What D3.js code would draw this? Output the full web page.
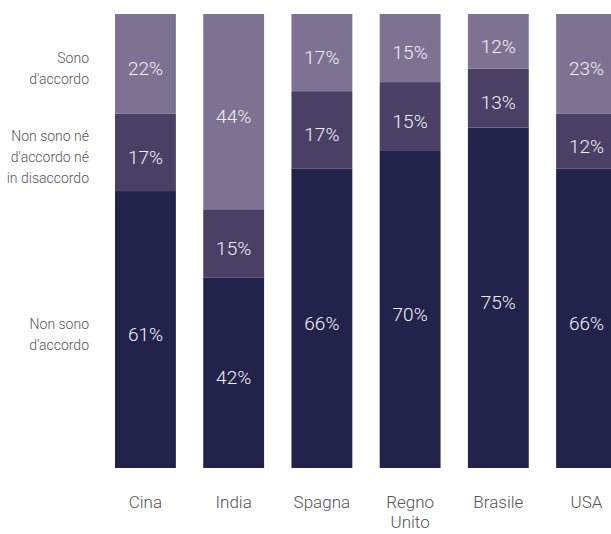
<!DOCTYPE html>
<html>
<head>
<meta charset="utf-8">
<script src="https://cdn.jsdelivr.net/npm/d3@7"></script>
<style>
  body { margin: 0; background: #fff; }
  svg text { font-family: Roboto, "Noto Sans", sans-serif; }
</style>
</head>
<body>
<svg id="chart" width="611" height="534"></svg>
<script>
// categories and stacked values (bottom -> top)
var countries = ['Cina', 'India', 'Spagna', 'Regno Unito', 'Brasile', 'USA'];
var disagree = [61, 42, 66, 70, 75, 66];
var neutral  = [17, 15, 17, 15, 13, 12];
var agree    = [22, 44, 17, 15, 12, 23];
var seriesNames = ['Non sono d\'accordo', 'Non sono né d\'accordo né in disaccordo', 'Sono d\'accordo'];
var legendLines = [['Non sono', 'd\'accordo'], ['Non sono né', 'd\'accordo né', 'in disaccordo'], ['Sono', 'd\'accordo']];
var colors = ['#22234a', '#4a4066', '#7e7293'];

var svg = d3.select('#chart');

var x = d3.scaleBand()
    .domain(countries)
    .range([115, 617])
    .paddingInner(0.31)
    .paddingOuter(0);

var y = d3.scaleLinear()
    .domain([0, 100])
    .range([468, 14])
    .clamp(true);

var rows = countries.map(function (c, i) {
    return { country: c, s0: disagree[i], s1: neutral[i], s2: agree[i] };
});

var stack = d3.stack().keys(['s0', 's1', 's2']);
var layers = stack(rows);

var g = svg.selectAll('g.layer')
    .data(layers)
    .enter().append('g')
    .attr('class', 'layer')
    .attr('fill', function (d, i) { return colors[i]; });

g.selectAll('rect')
    .data(function (d) { return d; })
    .enter().append('rect')
    .attr('x', function (d) { return x(d.data.country); })
    .attr('y', function (d) { return y(d[1]); })
    .attr('width', x.bandwidth())
    .attr('height', function (d) { return y(d[0]) - y(d[1]); });

// value labels
layers.forEach(function (layer) {
    svg.append('g').selectAll('text')
        .data(layer)
        .enter().append('text')
        .attr('x', function (d) { return x(d.data.country) + x.bandwidth() / 2; })
        .attr('y', function (d) { return (y(d[0]) + y(d[1])) / 2; })
        .attr('dy', '0.6em')
        .attr('text-anchor', 'middle')
        .attr('fill', '#f2f0f5')
        .style('font-size', '19px')
        .style('font-weight', 300)
        .text(function (d) { return (d[1] - d[0] > 0 ? d.data[layer.key] : '') + '%'; });
});

// legend on the left, lined up with the first bar
var lh = 21;
layers.forEach(function (layer, i) {
    var d = layer[0];
    var cy = (y(d[0]) + y(d[1])) / 2 + 10;
    var lines = legendLines[i];
    var t = svg.append('text')
        .attr('text-anchor', 'end')
        .attr('fill', '#555')
        .style('font-size', '14px')
        .style('font-weight', 300);
    lines.forEach(function (l, j) {
        t.append('tspan')
            .attr('x', 89)
            .attr('y', cy - (lines.length - 1) / 2 * lh + j * lh)
            .text(l);
    });
});

// category labels
countries.forEach(function (c) {
    var words = c.split(' ');
    var t = svg.append('text')
        .attr('text-anchor', 'middle')
        .attr('fill', '#555')
        .style('font-size', '17px')
        .style('font-weight', 300);
    words.forEach(function (w, j) {
        t.append('tspan')
            .attr('x', x(c) + x.bandwidth() / 2)
            .attr('y', 508 + j * 20)
            .text(w);
    });
});
</script>
</body>
</html>
